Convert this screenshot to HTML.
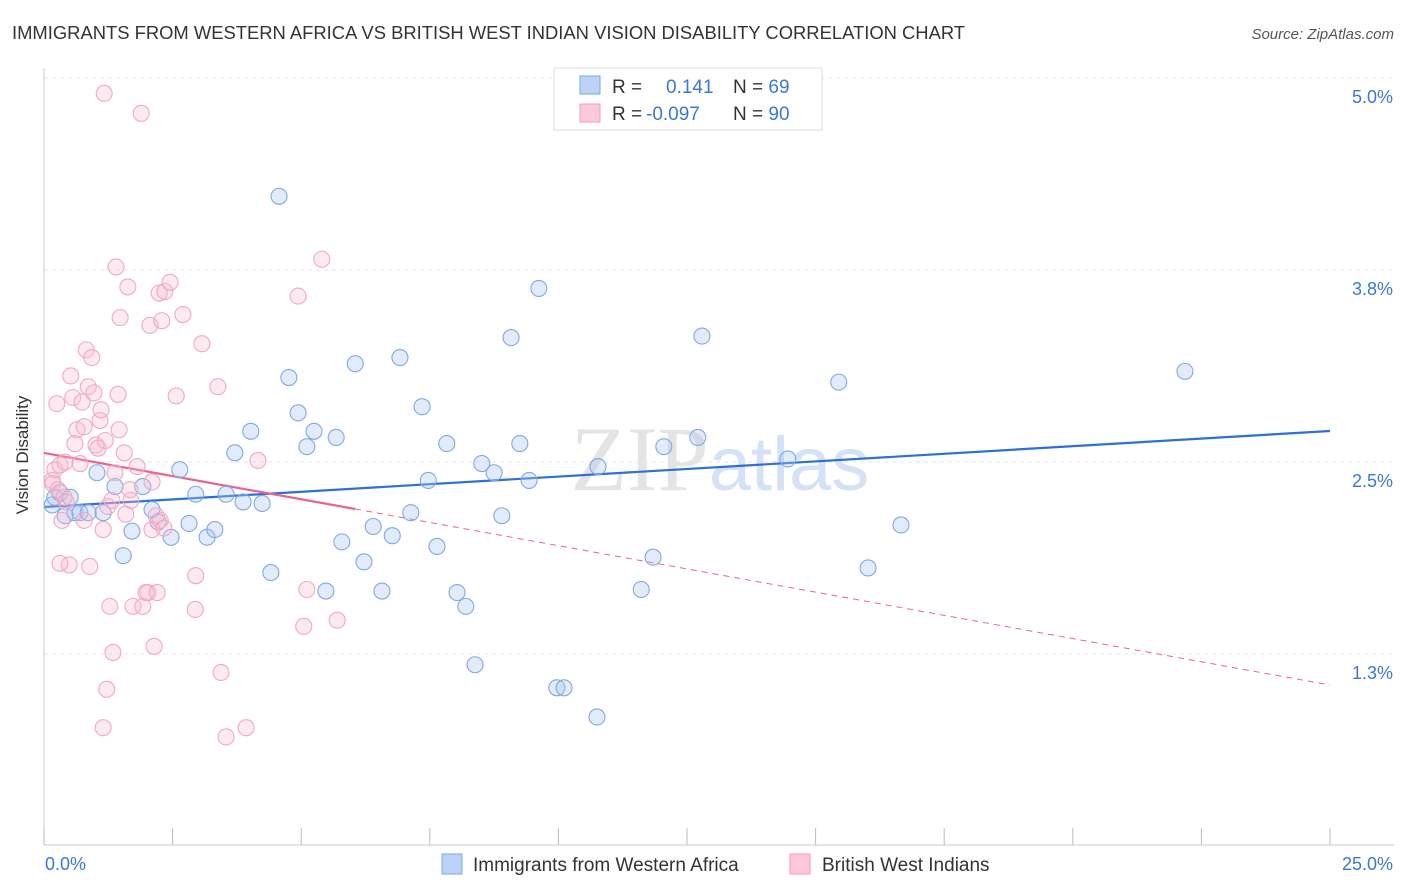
<!DOCTYPE html>
<html><head><meta charset="utf-8"><style>
body{margin:0;background:#fff;font-family:"Liberation Sans",sans-serif;}
#wrap{position:relative;width:1406px;height:892px;overflow:hidden;}
</style></head><body>
<div id="wrap">
<svg id="chart" width="1406" height="892" xmlns="http://www.w3.org/2000/svg">
<text x="12" y="39" font-size="18.4" fill="#333">IMMIGRANTS FROM WESTERN AFRICA VS BRITISH WEST INDIAN VISION DISABILITY CORRELATION CHART</text>
<text x="1394" y="39" font-size="15" fill="#555" font-style="italic" text-anchor="end">Source: ZipAtlas.com</text>
<text x="720" y="490" font-size="92" fill="#e4e4e4" text-anchor="middle" font-family="Liberation Serif, serif">ZIP<tspan fill="#d4e2f5" font-family="Liberation Sans, sans-serif" font-size="76">atlas</tspan></text>
<g id="grid"></g>
<g id="axes"></g>
<g id="lines"></g>
<g id="pts"></g>
<text x="28" y="455" font-size="17" fill="#333" text-anchor="middle" transform="rotate(-90 28 455)">Vision Disability</text>
<g>
<rect x="554" y="68" width="268" height="62" fill="#fff" stroke="#ddd"/>
<rect x="580" y="76" width="20" height="18" fill="#bcd3f5" stroke="#7aa6e6"/>
<rect x="580" y="104" width="20" height="18" fill="#fbc9d9" stroke="#f0a0bb"/>
<text x="612" y="93" font-size="19" fill="#333">R = <tspan x="666" fill="#3a78d6">0.141</tspan><tspan x="733" fill="#333">N = </tspan><tspan fill="#3a78d6">69</tspan></text>
<text x="612" y="120" font-size="19" fill="#333">R = <tspan x="646" fill="#3a78d6">-0.097</tspan><tspan x="733" fill="#333">N = </tspan><tspan fill="#3a78d6">90</tspan></text>
</g>
<g>
<rect x="442" y="854" width="20" height="20" fill="#bcd3f5" stroke="#7aa6e6"/>
<text x="473" y="871" font-size="19" fill="#333">Immigrants from Western Africa</text>
<rect x="790" y="854" width="20" height="20" fill="#fbc9d9" stroke="#f0a0bb"/>
<text x="822" y="871" font-size="19" fill="#333">British West Indians</text>
</g>
</svg>
</div>
<script>
const blueX=[0.16,0.21,0.31,0.41,0.51,0.60,0.70,0.86,1.03,1.15,1.38,1.54,1.71,1.92,2.10,2.22,2.47,2.64,2.82,2.95,3.17,3.32,3.54,3.71,3.87,4.02,4.24,4.41,4.57,4.76,4.94,5.11,5.25,5.48,5.68,5.79,6.05,6.22,6.40,6.57,6.77,6.92,7.13,7.35,7.47,7.64,7.83,8.03,8.20,8.38,8.51,8.75,8.90,9.08,9.25,9.43,9.62,9.97,10.11,10.75,10.77,11.61,11.84,12.05,12.71,12.79,13.39,14.46,15.45,16.02,16.66,22.18];
const blueY=[2.22,2.27,2.30,2.15,2.27,2.17,2.17,2.17,2.43,2.17,2.34,1.89,2.05,2.34,2.19,2.11,2.01,2.45,2.10,2.29,2.01,2.06,2.29,2.56,2.24,2.70,2.23,1.78,4.23,3.05,2.82,2.60,2.70,1.66,2.66,1.98,3.14,1.85,2.08,1.66,2.02,3.18,2.17,2.86,2.38,1.95,2.62,1.65,1.56,1.18,2.49,2.43,2.15,3.31,2.62,2.38,3.63,1.03,1.03,0.84,2.47,1.67,1.88,2.60,2.66,3.32,4.75,2.52,3.02,1.81,2.09,3.09];
const pinkX=[0.16,0.17,0.21,0.25,0.27,0.31,0.35,0.39,0.43,0.49,0.52,0.56,0.60,0.64,0.70,0.74,0.78,0.82,0.86,0.89,0.93,0.97,1.01,1.05,1.09,1.11,1.15,1.17,1.19,1.22,1.24,1.28,1.32,1.34,1.38,1.40,1.44,1.46,1.48,1.56,1.59,1.63,1.67,1.69,1.73,1.81,1.89,1.92,1.98,2.02,2.06,2.10,2.14,2.18,2.20,2.24,2.26,2.29,2.33,2.35,2.45,2.57,2.70,2.94,2.95,3.07,3.38,3.44,3.54,3.93,4.16,4.94,5.05,5.11,5.40,5.70,1.15,0.41,0.31,0.78,2.10];
const pinkY=[2.38,2.36,2.45,2.88,2.32,2.48,2.12,2.27,2.24,1.83,3.06,2.92,2.62,2.71,2.49,2.89,2.73,3.23,2.99,1.82,3.18,2.95,2.61,2.59,2.77,2.84,2.06,4.90,2.64,1.02,2.21,1.56,2.25,1.26,2.43,3.77,2.94,2.71,3.44,2.56,2.16,3.64,2.32,2.25,1.56,2.47,4.77,1.56,1.65,1.65,3.39,2.06,1.30,2.15,1.65,3.60,2.12,3.42,2.07,3.61,3.67,2.93,3.46,1.54,1.76,3.27,2.99,1.13,0.71,0.77,2.51,3.58,1.43,1.67,3.82,1.47,0.77,2.50,1.84,2.12,2.37];
const yTicks=[5.0,3.75,2.5,1.25];
const yTickLabels=["5.0%","3.8%","2.5%","1.3%"];
const xTicks=[0,2.5,5,7.5,10,12.5,15,17.5,20,22.5,25];
const xTickLabels=["0.0%","25.0%"];
const blueTrend=[2.207,2.702];
const pinkTrendSolid=[2.559,2.194,6.05];
const pinkTrendEnd=1.048;

const NS="http://www.w3.org/2000/svg";
const X=v=>44+v/25*1286;
const Y=v=>78+(5-v)*153.6;
function mk(tag,attrs,parent){const e=document.createElementNS(NS,tag);for(const k in attrs)e.setAttribute(k,attrs[k]);document.getElementById(parent).appendChild(e);return e;}
yTicks.forEach((t,i)=>{
  const l=mk('line',{x1:44,x2:1394,y1:Y(t),y2:Y(t),stroke:'#e6e6e6','stroke-dasharray':'4,4'},'grid');
  
  
  const tx=mk('text',{x:1393,y:Y(t)+25,'font-size':18,fill:'#3a78d6','text-anchor':'end'},'axes');
  tx.textContent=yTickLabels[i];
  
  
});
const ax=mk('line',{x1:44,x2:1394,y1:845,y2:845,stroke:'#ccc'},'axes');


const ay=mk('line',{x1:44,x2:44,y1:68,y2:845,stroke:'#ccc'},'axes');


xTicks.forEach(t=>{
  const l=mk('line',{x1:X(t),x2:X(t),y1:828,y2:845,stroke:'#bbb'},'axes');
  
  
});
const xl0=mk('text',{x:45,y:870,'font-size':18,fill:'#3a78d6'},'axes');xl0.textContent=xTickLabels[0];


const xl1=mk('text',{x:1393,y:870,'font-size':18,fill:'#3a78d6','text-anchor':'end'},'axes');xl1.textContent=xTickLabels[1];



blueX.forEach((x,i)=>{
  const c=mk('circle',{cx:X(x),cy:Y(blueY[i]),r:8,fill:'rgba(170,198,240,0.35)',stroke:'#80a8e4','stroke-width':1.1},'pts');
  
  
});
pinkX.forEach((x,i)=>{
  const c=mk('circle',{cx:X(x),cy:Y(pinkY[i]),r:8,fill:'rgba(248,185,207,0.3)',stroke:'#f2a8c0','stroke-width':1.1},'pts');
  
  
});
const bl=mk('line',{x1:X(0),y1:Y(blueTrend[0]),x2:X(25),y2:Y(blueTrend[1]),stroke:'#2f6fd6','stroke-width':2.2},'lines');


const pl=mk('line',{x1:X(0),y1:Y(pinkTrendSolid[0]),x2:X(pinkTrendSolid[2]),y2:Y(pinkTrendSolid[1]),stroke:'#e8648f','stroke-width':2.2},'lines');


const pd=mk('line',{x1:X(pinkTrendSolid[2]),y1:Y(pinkTrendSolid[1]),x2:X(25),y2:Y(pinkTrendEnd),stroke:'#e8648f','stroke-width':1,'stroke-dasharray':'6,5'},'lines');


</script>
</body></html>
